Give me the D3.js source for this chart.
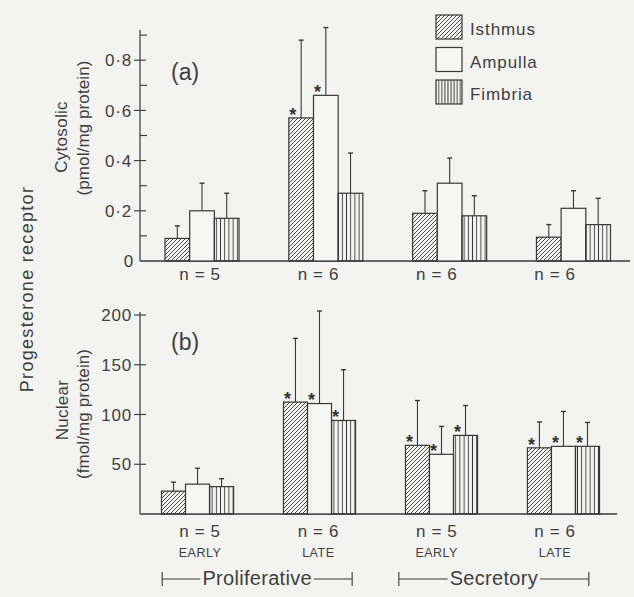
<!DOCTYPE html>
<html>
<head>
<meta charset="utf-8">
<script src="https://cdn.jsdelivr.net/npm/d3@7"></script>
<style>
  html, body { margin: 0; padding: 0; background: #f3f3f1; }
  svg { display: block; }
  text { font-family: "Liberation Sans", Arial, Helvetica, sans-serif; fill: #404040; }
</style>
</head>
<body>
<script>
// ---------------- DATA ----------------
const groups = ["EARLY", "LATE", "EARLY", "LATE"];
const phases = ["Proliferative", "Secretory"];
const series = ["Isthmus", "Ampulla", "Fimbria"];

const nCytosolic = [5, 6, 6, 6];
const nNuclear = [5, 6, 5, 6];

// (a) Cytosolic (pmol/mg protein): mean and SD
const cytIsthmus = [0.09, 0.57, 0.19, 0.095];
const cytAmpulla = [0.20, 0.66, 0.31, 0.21];
const cytFimbria = [0.17, 0.27, 0.18, 0.145];
const cytIsthmusSD = [0.05, 0.31, 0.09, 0.05];
const cytAmpullaSD = [0.11, 0.27, 0.10, 0.07];
const cytFimbriaSD = [0.10, 0.16, 0.08, 0.105];
const cytSignif = [[0, 1, 0, 0], [0, 1, 0, 0], [0, 0, 0, 0]];

// (b) Nuclear (fmol/mg protein): mean and SD
const nucIsthmus = [23, 112.5, 69, 66.5];
const nucAmpulla = [30, 111, 60, 68];
const nucFimbria = [27.5, 94, 79, 68];
const nucIsthmusSD = [9, 64, 45, 26];
const nucAmpullaSD = [16, 93, 28, 35];
const nucFimbriaSD = [8, 51, 30, 24];
const nucSignif = [[0, 1, 1, 1], [0, 1, 1, 1], [0, 1, 1, 1]];

const cytTicks = [0, 0.2, 0.4, 0.6, 0.8];
const cytMinorTicks = [0.1, 0.3, 0.5, 0.7, 0.9];
const nucTicks = [50, 100, 150, 200];

// ---------------- LAYOUT ----------------
const W = 634, H = 597;
const INK = "#383838";
const svg = d3.select("body").append("svg").attr("width", W).attr("height", H);

const defs = svg.append("defs");
function diagPattern(id, s) {
  const p = defs.append("pattern").attr("id", id).attr("patternUnits", "userSpaceOnUse")
    .attr("width", s).attr("height", s);
  p.append("path").attr("d", `M${-s/2},${s/2} L${s/2},${-s/2} M0,${s} L${s},0 M${s/2},${s*1.5} L${s*1.5},${s/2}`)
    .attr("stroke", INK).attr("stroke-width", 0.9);
}
function vertPattern(id, s) {
  const p = defs.append("pattern").attr("id", id).attr("patternUnits", "userSpaceOnUse")
    .attr("width", s).attr("height", s);
  p.append("line").attr("x1", s/2).attr("x2", s/2).attr("y1", 0).attr("y2", s)
    .attr("stroke", INK).attr("stroke-width", 0.9);
}
diagPattern("diag", 4);
vertPattern("vert", 4.2);
vertPattern("vertL", 3.1);

const fills = { Isthmus: "url(#diag)", Ampulla: "#f6f6f4", Fimbria: "url(#vert)" };
const legendFills = { Isthmus: "url(#diag)", Ampulla: "#f6f6f4", Fimbria: "url(#vertL)" };

const axisX = 140;

function panel(cfg) {
  const g = svg.append("g");
  const y = d3.scaleLinear().domain(cfg.domain).range(cfg.yRange);
  const x = d3.scaleBand().domain(d3.range(groups.length)).range(cfg.xRange).paddingInner(cfg.pad).paddingOuter(0);
  const xs = d3.scaleBand().domain(series).range([0, x.bandwidth()]);

  // axes
  g.append("line").attr("x1", axisX).attr("x2", axisX).attr("y1", cfg.axisTop).attr("y2", y(0))
    .attr("stroke", INK).attr("stroke-width", 1.2);
  g.append("line").attr("x1", axisX).attr("x2", cfg.baseEnd).attr("y1", y(0)).attr("y2", y(0))
    .attr("stroke", INK).attr("stroke-width", 1.3);
  cfg.ticks.forEach(t => {
    if (t !== 0) {
      g.append("line").attr("x1", axisX - 6).attr("x2", axisX + 6).attr("y1", y(t)).attr("y2", y(t))
        .attr("stroke", INK).attr("stroke-width", 1.1);
    }
    g.append("text").attr("x", t === 0 ? 134 : 132).attr("y", y(t)).attr("dy", "0.36em")
      .attr("text-anchor", "end").style("font-size", "17px").style("letter-spacing", "0.8px")
      .text(cfg.fmt(t));
  });
  (cfg.minor || []).forEach(t => {
    g.append("line").attr("x1", axisX).attr("x2", axisX + 7).attr("y1", y(t)).attr("y2", y(t))
      .attr("stroke", INK).attr("stroke-width", 1.1);
  });

  // panel letter
  g.append("text").attr("x", 171).attr("y", cfg.letterY).attr("dy", "0.36em")
    .style("font-size", "23px").text(cfg.letter);

  // bars
  series.forEach((s, si) => {
    groups.forEach((grp, gi) => {
      const v = cfg.means[si][gi], sd = cfg.sds[si][gi];
      const bx = x(gi) + xs(s), bw = xs.bandwidth();
      const cx = bx + bw / 2;
      // error bar
      g.append("line").attr("x1", cx).attr("x2", cx).attr("y1", y(v)).attr("y2", y(v + sd))
        .attr("stroke", INK).attr("stroke-width", 1.1);
      g.append("line").attr("x1", cx - 2.5).attr("x2", cx + 2.5).attr("y1", y(v + sd)).attr("y2", y(v + sd))
        .attr("stroke", INK).attr("stroke-width", 1.4);
      g.append("rect").attr("x", bx).attr("y", y(v)).attr("width", bw).attr("height", y(0) - y(v))
        .attr("fill", fills[s]).attr("stroke", INK).attr("stroke-width", 1.2);
      if (cfg.signif[si][gi]) {
        g.append("text").attr("x", bx + 4).attr("y", y(v) - 8).attr("dy", "0.6em")
          .attr("text-anchor", "middle").style("font-size", "18px").style("font-weight", "bold")
          .style("fill", "#333").text("*");
      }
    });
  });
  return { x, y };
}

const panelA = panel({
  domain: [0, 1], yRange: [261, 10], axisTop: 30, baseEnd: 630,
  xRange: [165, 610.5], pad: 0.402,
  ticks: cytTicks, minor: cytMinorTicks,
  fmt: t => t === 0 ? "0" : d3.format(".1f")(t).replace(".", "\u00B7"),
  letter: "(a)", letterY: 72,
  means: [cytIsthmus, cytAmpulla, cytFimbria],
  sds: [cytIsthmusSD, cytAmpullaSD, cytFimbriaSD],
  signif: cytSignif
});

const panelB = panel({
  domain: [0, 200], yRange: [514, 315], axisTop: 312, baseEnd: 617,
  xRange: [161.5, 599.5], pad: 0.409,
  ticks: nucTicks, minor: [],
  fmt: t => String(t),
  letter: "(b)", letterY: 342,
  means: [nucIsthmus, nucAmpulla, nucFimbria],
  sds: [nucIsthmusSD, nucAmpullaSD, nucFimbriaSD],
  signif: nucSignif
});

// group labels
const xl = d3.scalePoint().domain(d3.range(groups.length)).range([200, 555]);
groups.forEach((grp, gi) => {
  svg.append("text").attr("x", xl(gi)).attr("y", 280).attr("text-anchor", "middle")
    .style("font-size", "17px").style("letter-spacing", "0.6px").text("n = " + nCytosolic[gi]);
  svg.append("text").attr("x", xl(gi)).attr("y", 537).attr("text-anchor", "middle")
    .style("font-size", "17px").style("letter-spacing", "0.6px").text("n = " + nNuclear[gi]);
  svg.append("text").attr("x", xl(gi)).attr("y", 557).attr("text-anchor", "middle")
    .style("font-size", "12.5px").style("letter-spacing", "0.5px").text(grp);
});

// phase brackets
phases.forEach((ph, pi) => {
  const mid = (xl(pi * 2) + xl(pi * 2 + 1)) / 2 - 2;
  const x0 = mid - 95, x1 = mid + 95, yb = 579;
  const t = svg.append("text").attr("x", mid).attr("y", 585).attr("text-anchor", "middle")
    .style("font-size", "20px").style("letter-spacing", "0.3px").text(ph);
  const tw = t.node().getComputedTextLength();
  svg.append("line").attr("x1", x0).attr("x2", mid - tw / 2 - 2).attr("y1", yb).attr("y2", yb)
    .attr("stroke", INK).attr("stroke-width", 1.1);
  svg.append("line").attr("x1", mid + tw / 2 + 2).attr("x2", x1).attr("y1", yb).attr("y2", yb)
    .attr("stroke", INK).attr("stroke-width", 1.1);
  [x0, x1].forEach(xx => svg.append("line").attr("x1", xx).attr("x2", xx).attr("y1", yb - 7).attr("y2", yb + 7)
    .attr("stroke", INK).attr("stroke-width", 1.1));
});

// y titles
function vtext(x, y, txt, size, ls) {
  svg.append("text").attr("transform", `translate(${x},${y}) rotate(-90)`)
    .attr("text-anchor", "middle").attr("dy", "0.36em")
    .style("font-size", size + "px").style("letter-spacing", ls + "px").text(txt);
}
vtext(27, 289, "Progesterone receptor", 18, 1.3);
vtext(61, 137, "Cytosolic", 17, 0.3);
vtext(83, 128, "(pmol/mg protein)", 17, 0.1);
vtext(62, 410, "Nuclear", 17, 0.3);
vtext(83, 414, "(fmol/mg protein)", 17, 0.1);

// legend
series.forEach((s, i) => {
  const ly = 15 + i * 32.5;
  svg.append("rect").attr("x", 436).attr("y", ly).attr("width", 26).attr("height", 24)
    .attr("fill", legendFills[s]).attr("stroke", INK).attr("stroke-width", 1.2);
  svg.append("text").attr("x", 470).attr("y", ly + 20).style("font-size", "17px")
    .style("letter-spacing", "0.9px").text(s);
});
</script>
</body>
</html>
